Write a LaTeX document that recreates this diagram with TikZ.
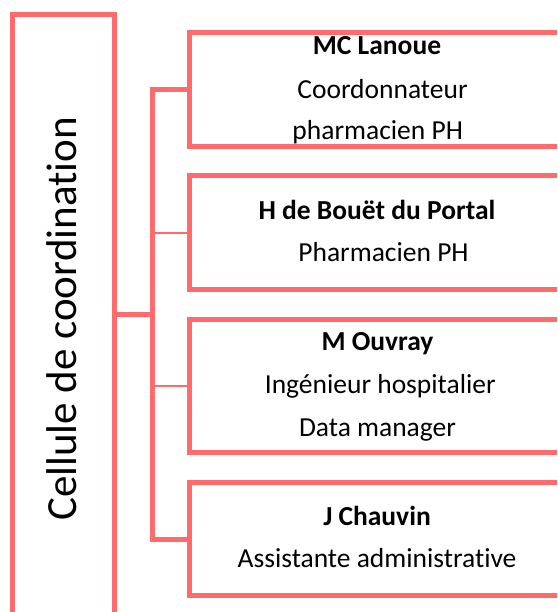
\documentclass[tikz,border=0pt]{standalone}
\usepackage{fontspec}
\setmainfont{Carlito}[Ligatures=NoCommon]
\definecolor{salmon}{RGB}{255,107,107}
\begin{document}
\begin{tikzpicture}[x=1pt,y=-1pt,
  every node/.style={font=\fontsize{27.5}{33}\selectfont},
  box/.style={draw=salmon,line width=5pt,inner sep=0pt,minimum width=374.2pt},
  link/.style={draw=salmon,line width=5pt},
  thinlink/.style={draw=salmon,line width=1.5pt}]
\useasboundingbox (0,0) rectangle (557,612);
\clip (0,0) rectangle (557,612);

% left column
\node[box,minimum width=101.7pt,minimum height=600.4pt] (cell) at (63.65,314.7) {};
\node[rotate=90,anchor=base,font=\fontsize{43}{50}\selectfont] (title) at (76,319) {Cellule de coordination};

% member boxes
\foreach \n/\y/\h in {1/89.75/113.5,2/232.8/114,3/385.85/133.7,4/539/113.4}
\node[box,minimum height=\h pt] (b\n) at (376.9,\y) {};

% connectors
\coordinate (bus) at (152.5,314.7);
\draw[link] (cell.east) -- (bus);
\draw[link] (b1.west) -| (bus) |- (b4.west);
\draw[thinlink] (b2.west) -- (b2.west -| bus);
\draw[thinlink] (b3.west) -- (b3.west -| bus);

% texts
\foreach \n/\x/\y/\v in {1/377/55/\textbf{MC Lanoue},2/382.5/98.3/Coordonnateur,3/377.7/140/pharmacien PH,
  4/377/219.3/\textbf{H de Bouët du Portal},5/383.5/261.7/Pharmacien PH,
  6/377.5/350.7/\textbf{M Ouvray},7/380.3/393.3/Ingénieur hospitalier,8/377.5/436/Data manager,
  9/377/525.7/\textbf{J Chauvin},10/377/567.3/Assistante administrative}
\node[anchor=base,inner sep=0pt] (l\n) at (\x,\y) {\v};

\end{tikzpicture}
\end{document}
